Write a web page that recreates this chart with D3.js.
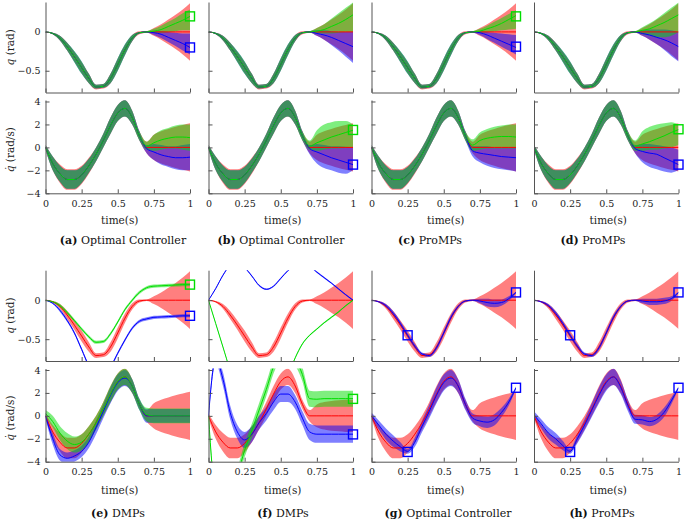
<!DOCTYPE html>
<html><head><meta charset="utf-8">
<script src="https://cdn.jsdelivr.net/npm/d3@7"></script>
<style>body{margin:0;background:#fff}</style>
</head><body>
<svg id="chart" width="685" height="520"></svg>
<script>
// ---------------- DATA ----------------
const T = [0,.05,.1,.15,.2,.25,.3,.35,.4,.45,.5,.55,.6,.65,.7,.75,.8,.85,.9,.95,1];
const X_TICKS = [0, 0.25, 0.5, 0.75, 1];
const Q_TICKS = [-0.5, 0];
const QD_TICKS = [-4, -2, 0, 2, 4];

// reference (red) demonstration distribution
const RED_Q     = [0,-.02,-.08,-.19,-.32,-.46,-.60,-.71,-.70,-.60,-.42,-.23,-.08,-.01,0,0,0,0,0,0,0];
const RED_Q_SD  = [0,.01,.03,.05,.06,.07,.06,.03,.03,.06,.07,.06,.04,.02,.01,.05,.10,.16,.22,.29,.37];
const RED_QD    = [0,-1.4,-2.3,-2.8,-2.8,-2.4,-1.6,-.6,.6,1.9,3.0,3.4,2.6,1.0,0,0,0,0,0,0,0];
const RED_QD_SD = [.2,.6,.8,.9,.9,.8,.7,.6,.6,.7,.7,.7,.6,.4,.5,1.1,1.4,1.6,1.8,1.95,2.1];
const F_RED_QD_SD = [.2,.6,.8,.9,.9,.8,.7,.6,.6,.7,.7,.7,.6,.4,.5,1.0,1.2,1.3,1.35,1.4,1.4];

// shared first part (t = 0 .. 0.65) of conditioned distributions in (a)-(d)
const EARLY_Q     = [0,-.02,-.08,-.19,-.32,-.46,-.60,-.71,-.70,-.60,-.42,-.23,-.08,-.01];
const EARLY_Q_LO  = [0,-.03,-.11,-.24,-.39,-.54,-.66,-.73,-.72,-.66,-.50,-.30,-.12,-.02];
const EARLY_Q_HI  = [0,-.01,-.05,-.14,-.25,-.38,-.54,-.68,-.67,-.54,-.34,-.16,-.04,0];
const EARLY_QD    = [0,-1.4,-2.3,-2.8,-2.8,-2.4,-1.6,-.6,.6,1.9,3.0,3.4,2.6,1.0];
const EARLY_QD_LO = [-.2,-2.0,-3.0,-3.6,-3.6,-3.1,-2.2,-1.2,0,1.2,2.3,2.7,2.0,.6];
const EARLY_QD_HI = [.2,-.8,-1.6,-2.0,-2.0,-1.7,-1.0,0,1.2,2.6,3.7,4.1,3.2,1.4];

// second part (t = 0.7 .. 1), green (G) and blue (B)
const A_GQ = [0,.01,.03,.07,.11,.15,.20],  A_GQ_LO = [-.01,-.01,-.01,0,.01,.02,.02], A_GQ_HI = [.01,.04,.08,.13,.18,.24,.29];
const A_BQ = [0,-.01,-.03,-.07,-.11,-.15,-.20], A_BQ_LO = [-.01,-.04,-.08,-.13,-.18,-.24,-.29], A_BQ_HI = [.01,.01,.01,0,-.01,-.02,-.02];
const A_GQD = [.1,.4,.65,.8,.9,.9,.85], A_GQD_LO = [-.2,-.3,-.2,-.1,-.1,-.2,-.3], A_GQD_HI = [.5,1.1,1.5,1.7,1.9,2.0,2.0];
const A_BQD = [-.1,-.4,-.65,-.8,-.9,-.9,-.85], A_BQD_LO = [-.5,-1.1,-1.5,-1.7,-1.9,-2.0,-2.0], A_BQD_HI = [.2,.3,.2,.1,.1,.2,.3];

const B_GQ = [0,.01,.03,.07,.11,.16,.22], B_GQ_LO = [-.01,-.02,-.02,-.02,-.01,0,0], B_GQ_HI = [.01,.05,.10,.17,.24,.31,.38];
const B_BQ = [0,-.02,-.04,-.07,-.11,-.15,-.19], B_BQ_LO = [-.01,-.05,-.10,-.17,-.24,-.32,-.40], B_BQ_HI = [.01,.02,.02,.01,0,0,0];
const B_GQD = [.1,.4,.65,.9,1.1,1.3,1.5], B_GQD_LO = [-.2,-.3,-.2,-.1,-.1,-.05,0], B_GQD_HI = [.6,1.5,2.0,2.2,2.3,2.3,2.0];
const B_BQD = [-.1,-.4,-.65,-.9,-1.1,-1.3,-1.5], B_BQD_LO = [-.6,-1.4,-1.8,-2.0,-2.2,-2.3,-2.0], B_BQD_HI = [.2,.3,.2,.1,.1,.05,0];

const C_GQ = [0,.01,.04,.07,.11,.16,.21], C_GQ_LO = [-.01,-.01,0,.01,.02,.03,.04], C_GQ_HI = [.01,.04,.08,.13,.18,.23,.28];
const C_BQ = [0,-.01,-.04,-.08,-.12,-.16,-.20], C_BQ_LO = [-.01,-.04,-.09,-.14,-.19,-.24,-.29], C_BQ_HI = [.01,.01,0,-.01,-.02,-.03,-.04];
const C_GQD = [.2,.6,.8,.9,.95,.95,.9], C_GQD_LO = [-.3,-.2,-.1,-.1,-.1,-.1,-.1], C_GQD_HI = [.7,1.3,1.6,1.8,1.9,2.0,2.0];
const C_BQD = [-.3,-.5,-.6,-.7,-.8,-.85,-.9], C_BQD_LO = [-.8,-1.3,-1.6,-1.8,-1.9,-2.0,-2.1], C_BQD_HI = [.1,.1,.1,0,0,0,0];

const D_GQ = [0,.02,.04,.08,.12,.17,.22], D_GQ_LO = [-.01,-.03,-.05,-.07,-.07,-.05,0], D_GQ_HI = [.01,.06,.11,.17,.24,.31,.38];
const D_BQ = [0,-.02,-.04,-.07,-.10,-.14,-.19], D_BQ_LO = [-.01,-.05,-.10,-.16,-.23,-.31,-.38], D_BQ_HI = [.01,.02,.03,.03,.03,.02,0];
const D_GQD = [.1,.3,.5,.75,1.0,1.3,1.55], D_GQD_LO = [-.3,-.3,-.2,-.2,-.1,0,.2], D_GQD_HI = [.6,1.4,1.8,2.0,2.1,2.2,2.0];
const D_BQD = [-.1,-.35,-.5,-.6,-.9,-1.2,-1.5], D_BQD_LO = [-.5,-1.3,-1.7,-1.9,-2.1,-2.2,-2.0], D_BQD_HI = [.2,.3,.3,.2,.1,0,-.2];

// (e) DMPs
const E_GQ  = [0,-.02,-.07,-.16,-.26,-.37,-.47,-.54,-.53,-.43,-.28,-.12,0,.10,.16,.18,.185,.19,.195,.2,.2];
const E_GQ_SD = [0,.01,.02,.02,.02,.02,.02,.02,.02,.02,.02,.02,.02,.02,.02,.02,.02,.02,.02,.02,.02];
const E_BQ  = [0,-.04,-.13,-.26,-.42,-.63,-.84,-.95,-.96,-.86,-.68,-.51,-.36,-.27,-.24,-.22,-.215,-.21,-.205,-.2,-.2];
const E_BQ_SD = [0,.01,.02,.02,.02,.02,.02,.02,.02,.02,.02,.02,.02,.02,.02,.02,.02,.02,.02,.02,.02];
const E_GQD = [.2,-.5,-1.5,-2.2,-2.5,-2.3,-1.6,-.6,.6,1.9,3.0,3.4,2.6,1.0,.1,0,0,0,0,0,0];
const E_GQD_SD = [.3,.5,.6,.7,.7,.7,.7,.6,.6,.7,.7,.7,.6,.5,.6,.65,.65,.65,.65,.65,.65];
const E_BQD = [0,-2.0,-3.4,-3.7,-3.5,-3.1,-2.3,-1.0,.4,1.8,2.9,3.3,2.6,1.0,0,0,0,0,0,0,0];
const E_BQD_SD = [.3,.5,.5,.5,.5,.5,.5,.6,.6,.7,.7,.7,.6,.5,.6,.6,.6,.6,.6,.6,.6];

// (f) DMPs
const F_GQ  = [0,-.3,-.6,-.9,-1.15,-1.35,-1.5,-1.55,-1.5,-1.4,-1.2,-.97,-.74,-.56,-.45,-.37,-.29,-.22,-.15,-.07,0];
const F_GQ_SD = [0,.01,.01,.01,.01,.01,.01,.01,.01,.01,.01,.01,.01,.01,.01,.01,.01,.01,.01,.01,.01];
const F_BQ  = [0,.15,.32,.45,.49,.42,.31,.19,.14,.18,.28,.38,.46,.50,.44,.36,.29,.22,.145,.07,0];
const F_BQ_SD = [0,.01,.01,.01,.01,.01,.01,.01,.01,.01,.01,.01,.01,.01,.01,.01,.01,.01,.01,.01,.01];
const F_GQD = [0,-7,-8,-7,-5.2,-3.0,-1.3,.5,2.3,4.3,5.5,5.8,5.0,3.6,1.5,1.45,1.5,1.5,1.5,1.5,1.5];
const F_GQD_SD = [.3,.6,.6,.6,.6,.6,.6,.6,.6,.6,.6,.6,.6,.6,.7,.7,.7,.7,.7,.7,.7];
const F_BQD = [0,5.0,3.2,.3,-1.4,-2.1,-1.6,-.6,.2,1.2,1.9,1.9,1.2,-.2,-1.4,-1.6,-1.6,-1.6,-1.6,-1.6,-1.6];
const F_BQD_SD = [.2,.5,.6,.6,.6,.7,.7,.6,.6,.7,.7,.7,.6,.6,.7,.75,.75,.75,.75,.75,.75];

// (g) Optimal Controller with via points
const G_BQ  = [0,-.02,-.07,-.17,-.30,-.45,-.59,-.69,-.71,-.61,-.42,-.22,-.08,-.01,0,-.01,-.03,-.04,-.03,.02,.10];
const G_BQ_SD = [0,.01,.02,.03,.03,.03,.03,.02,.02,.03,.03,.03,.02,.01,.01,.03,.05,.05,.04,.03,.01];
const G_BQD = [0,-.8,-1.6,-2.2,-2.7,-3.1,-2.3,-.9,.4,1.8,2.9,3.3,2.6,1.0,-.2,-.45,-.55,-.35,.3,1.2,2.45];
const G_BQD_SD = [.3,.4,.5,.5,.4,.2,.4,.5,.6,.7,.7,.7,.6,.5,.4,.45,.5,.5,.4,.3,.1];

// (h) ProMPs with via points
const H_BQ  = [0,-.02,-.07,-.17,-.30,-.45,-.59,-.69,-.71,-.61,-.42,-.22,-.08,-.01,0,-.01,-.02,-.02,-.01,.02,.10];
const H_BQ_SD = [0,.01,.02,.03,.03,.03,.03,.02,.02,.03,.03,.03,.02,.01,.01,.03,.04,.04,.04,.03,.01];
const H_BQD = [.1,-.7,-1.5,-2.0,-2.6,-3.1,-2.0,-.8,.5,1.8,2.9,3.4,2.5,.9,-.3,-.35,-.5,-.3,.3,1.3,2.45];
const H_BQD_SD = [.3,.4,.5,.5,.4,.2,.4,.5,.6,.7,.7,.7,.6,.5,.4,.4,.4,.4,.4,.3,.1];

// targets / via points: [green, blue] at t = 1, or [via1, via2] at VIA_T
const A_TARGET_Q  = [0.20, -0.20];
const B_TARGET_QD = [1.52, -1.50];
const C_TARGET_Q  = [0.20, -0.19];
const D_TARGET_QD = [1.58, -1.50];
const E_TARGET_Q  = [0.20, -0.20];
const F_TARGET_QD = [1.48, -1.62];
const VIA_T  = [0.25, 1];
const G_VIA_Q  = [-0.45, 0.10], G_VIA_QD = [-3.15, 2.45];
const H_VIA_Q  = [-0.45, 0.10], H_VIA_QD = [-3.15, 2.45];

// ---------------- DRAWING ----------------
const RED = '#ff0000', BLUE = '#0000ff', GREEN = '#00dd00';
const FONT = "'DejaVu Serif', serif";
const svg = d3.select('#chart');
const COLX = [45.5, 208.5, 371.5, 534], PW = 144.5;
const ROWS = [
  {q:[92.5, 2], qd:[193.3, 100], timeY:220, capY:240},
  {q:[361, 270.2], qd:[461.7, 368.5], timeY:490, capY:513}
];
const cat = (a, b) => a.concat(b);
const sub = (m, s) => m.map((v, i) => v - s[i]);
const add = (m, s) => m.map((v, i) => v + s[i]);
const S = (m, lo, hi, color) => ({m, lo, hi, color});
const redQ = S(RED_Q, sub(RED_Q, RED_Q_SD), add(RED_Q, RED_Q_SD), RED);
const redQD = S(RED_QD, sub(RED_QD, RED_QD_SD), add(RED_QD, RED_QD_SD), RED);
const redQDf = S(RED_QD, sub(RED_QD, F_RED_QD_SD), add(RED_QD, F_RED_QD_SD), RED);
const cond = (bq, bqlo, bqhi, col) => S(cat(EARLY_Q, bq), cat(EARLY_Q_LO, bqlo), cat(EARLY_Q_HI, bqhi), col);
const condD = (bq, bqlo, bqhi, col) => S(cat(EARLY_QD, bq), cat(EARLY_QD_LO, bqlo), cat(EARLY_QD_HI, bqhi), col);
const sd = (m, s, col) => S(m, sub(m, s), add(m, s), col);

const PANELS = [
  {key:'a', label:'Optimal Controller', col:0, row:0, capX:123,
   q:[redQ, cond(A_BQ,A_BQ_LO,A_BQ_HI,BLUE), cond(A_GQ,A_GQ_LO,A_GQ_HI,GREEN)],
   qd:[redQD, condD(A_BQD,A_BQD_LO,A_BQD_HI,BLUE), condD(A_GQD,A_GQD_LO,A_GQD_HI,GREEN)],
   qBox:[[1,A_TARGET_Q[0],GREEN],[1,A_TARGET_Q[1],BLUE]], qdBox:[]},
  {key:'b', label:'Optimal Controller', col:1, row:0, capX:281,
   q:[redQ, cond(B_BQ,B_BQ_LO,B_BQ_HI,BLUE), cond(B_GQ,B_GQ_LO,B_GQ_HI,GREEN)],
   qd:[redQD, condD(B_BQD,B_BQD_LO,B_BQD_HI,BLUE), condD(B_GQD,B_GQD_LO,B_GQD_HI,GREEN)],
   qBox:[], qdBox:[[1,B_TARGET_QD[0],GREEN],[1,B_TARGET_QD[1],BLUE]]},
  {key:'c', label:'ProMPs', col:2, row:0, capX:430,
   q:[redQ, cond(C_BQ,C_BQ_LO,C_BQ_HI,BLUE), cond(C_GQ,C_GQ_LO,C_GQ_HI,GREEN)],
   qd:[redQD, condD(C_BQD,C_BQD_LO,C_BQD_HI,BLUE), condD(C_GQD,C_GQD_LO,C_GQD_HI,GREEN)],
   qBox:[[1,C_TARGET_Q[0],GREEN],[1,C_TARGET_Q[1],BLUE]], qdBox:[]},
  {key:'d', label:'ProMPs', col:3, row:0, capX:593,
   q:[redQ, cond(D_BQ,D_BQ_LO,D_BQ_HI,BLUE), cond(D_GQ,D_GQ_LO,D_GQ_HI,GREEN)],
   qd:[redQD, condD(D_BQD,D_BQD_LO,D_BQD_HI,BLUE), condD(D_GQD,D_GQD_LO,D_GQD_HI,GREEN)],
   qBox:[], qdBox:[[1,D_TARGET_QD[0],GREEN],[1,D_TARGET_QD[1],BLUE]]},
  {key:'e', label:'DMPs', col:0, row:1, capX:118,
   q:[redQ, sd(E_BQ,E_BQ_SD,BLUE), sd(E_GQ,E_GQ_SD,GREEN)],
   qd:[redQD, sd(E_BQD,E_BQD_SD,BLUE), sd(E_GQD,E_GQD_SD,GREEN)],
   qBox:[[1,E_TARGET_Q[0],GREEN],[1,E_TARGET_Q[1],BLUE]], qdBox:[]},
  {key:'f', label:'DMPs', col:1, row:1, capX:283,
   q:[redQ, sd(F_BQ,F_BQ_SD,BLUE), sd(F_GQ,F_GQ_SD,GREEN)],
   qd:[redQDf, sd(F_BQD,F_BQD_SD,BLUE), sd(F_GQD,F_GQD_SD,GREEN)],
   qBox:[], qdBox:[[1,F_TARGET_QD[0],GREEN],[1,F_TARGET_QD[1],BLUE]]},
  {key:'g', label:'Optimal Controller', col:2, row:1, capX:448,
   q:[redQ, sd(G_BQ,G_BQ_SD,BLUE)], qd:[redQD, sd(G_BQD,G_BQD_SD,BLUE)],
   qBox:VIA_T.map((t,i)=>[t,G_VIA_Q[i],BLUE]), qdBox:VIA_T.map((t,i)=>[t,G_VIA_QD[i],BLUE])},
  {key:'h', label:'ProMPs', col:3, row:1, capX:602,
   q:[redQ, sd(H_BQ,H_BQ_SD,BLUE)], qd:[redQD, sd(H_BQD,H_BQD_SD,BLUE)],
   qBox:VIA_T.map((t,i)=>[t,H_VIA_Q[i],BLUE]), qdBox:VIA_T.map((t,i)=>[t,H_VIA_QD[i],BLUE])}
];

let clipId = 0;
const fmtY = d => d < 0 ? '\u2212' + Math.abs(d) : String(d);

function drawPlot(x, y, seriesList, boxes, xLabels, yLabels, yTicks) {
  const [x0, x1] = x.range(); const [yb, yt] = y.range();
  const id = 'clip' + (clipId++);
  svg.append('clipPath').attr('id', id).append('rect')
    .attr('x', x0).attr('y', yt).attr('width', x1 - x0).attr('height', yb - yt);
  const body = svg.append('g').attr('clip-path', `url(#${id})`);
  const area = s => d3.area().x((d, i) => x(T[i])).y0((d, i) => y(s.lo[i])).y1((d, i) => y(s.hi[i]))
    .curve(d3.curveMonotoneX)(T);
  const line = s => d3.line().x((d, i) => x(T[i])).y((d, i) => y(s.m[i])).curve(d3.curveMonotoneX)(T);
  seriesList.forEach(s => body.append('path').attr('d', area(s)).attr('fill', s.color).attr('fill-opacity', 0.5));
  seriesList.forEach(s => body.append('path').attr('d', line(s)).attr('fill', 'none')
    .attr('stroke', s.color).attr('stroke-width', 1));
  const ax = svg.append('g').attr('transform', `translate(0,${yb})`)
    .call(d3.axisBottom(x).tickValues(X_TICKS).tickSize(-4).tickSizeOuter(0).tickPadding(6.5)
      .tickFormat(xLabels ? (d => String(d)) : ''));
  const ay = svg.append('g').attr('transform', `translate(${x0},0)`)
    .call(d3.axisLeft(y).tickValues(yTicks).tickSize(-4).tickSizeOuter(0).tickPadding(5)
      .tickFormat(yLabels ? fmtY : ''));
  [ax, ay].forEach(a => {
    a.attr('font-family', FONT).attr('font-size', 9.5);
    a.selectAll('path,line').attr('stroke', '#555').attr('stroke-width', 1);
    a.selectAll('text').attr('fill', '#222');
  });
  boxes.forEach(([t, v, c]) => svg.append('rect').attr('x', x(t) - 4.5).attr('y', y(v) - 4.5)
    .attr('width', 9).attr('height', 9).attr('fill', 'none').attr('stroke', c).attr('stroke-width', 1.4));
}

PANELS.forEach(p => {
  const R = ROWS[p.row];
  const x = d3.scaleLinear([0, 1], [COLX[p.col], COLX[p.col] + PW]);
  const yq = d3.scaleLinear([-0.78, 0.385], R.q);
  const yqd = d3.scaleLinear([-4, 4.13], R.qd);
  const first = p.col === 0;
  drawPlot(x, yq, p.q, p.qBox, false, first, Q_TICKS);
  drawPlot(x, yqd, p.qd, p.qdBox, true, first, QD_TICKS);
  const cx = COLX[p.col] + PW / 2 + 2;
  svg.append('text').attr('x', cx).attr('y', R.timeY).attr('dy', '0.35em').attr('text-anchor', 'middle')
    .attr('font-family', FONT).attr('font-size', 10.5).attr('fill', '#222').text('time(s)');
  const cap = svg.append('text').attr('x', p.capX).attr('y', R.capY).attr('dy', '0.35em')
    .attr('text-anchor', 'middle').attr('font-family', FONT).attr('font-size', 11).attr('fill', '#111');
  cap.append('tspan').attr('font-weight', 'bold').text(`(${p.key})`);
  cap.append('tspan').text(' ' + p.label);
  if (first) {
    const qc = (R.q[0] + R.q[1]) / 2, qdc = (R.qd[0] + R.qd[1]) / 2;
    const t1 = svg.append('text').attr('transform', `translate(14,${qc}) rotate(-90)`)
      .attr('text-anchor', 'middle').attr('font-family', FONT).attr('font-size', 10.5).attr('fill', '#222');
    t1.append('tspan').attr('font-style', 'italic').text('q');
    t1.append('tspan').text(' (rad)');
    const t2 = svg.append('text').attr('transform', `translate(14,${qdc + 3}) rotate(-90)`)
      .attr('text-anchor', 'middle').attr('font-family', FONT).attr('font-size', 10.5).attr('fill', '#222');
    t2.append('tspan').attr('font-style', 'italic').text('q\u0307');
    t2.append('tspan').text(' (rad/s)');
  }
});
</script>
</body></html>
